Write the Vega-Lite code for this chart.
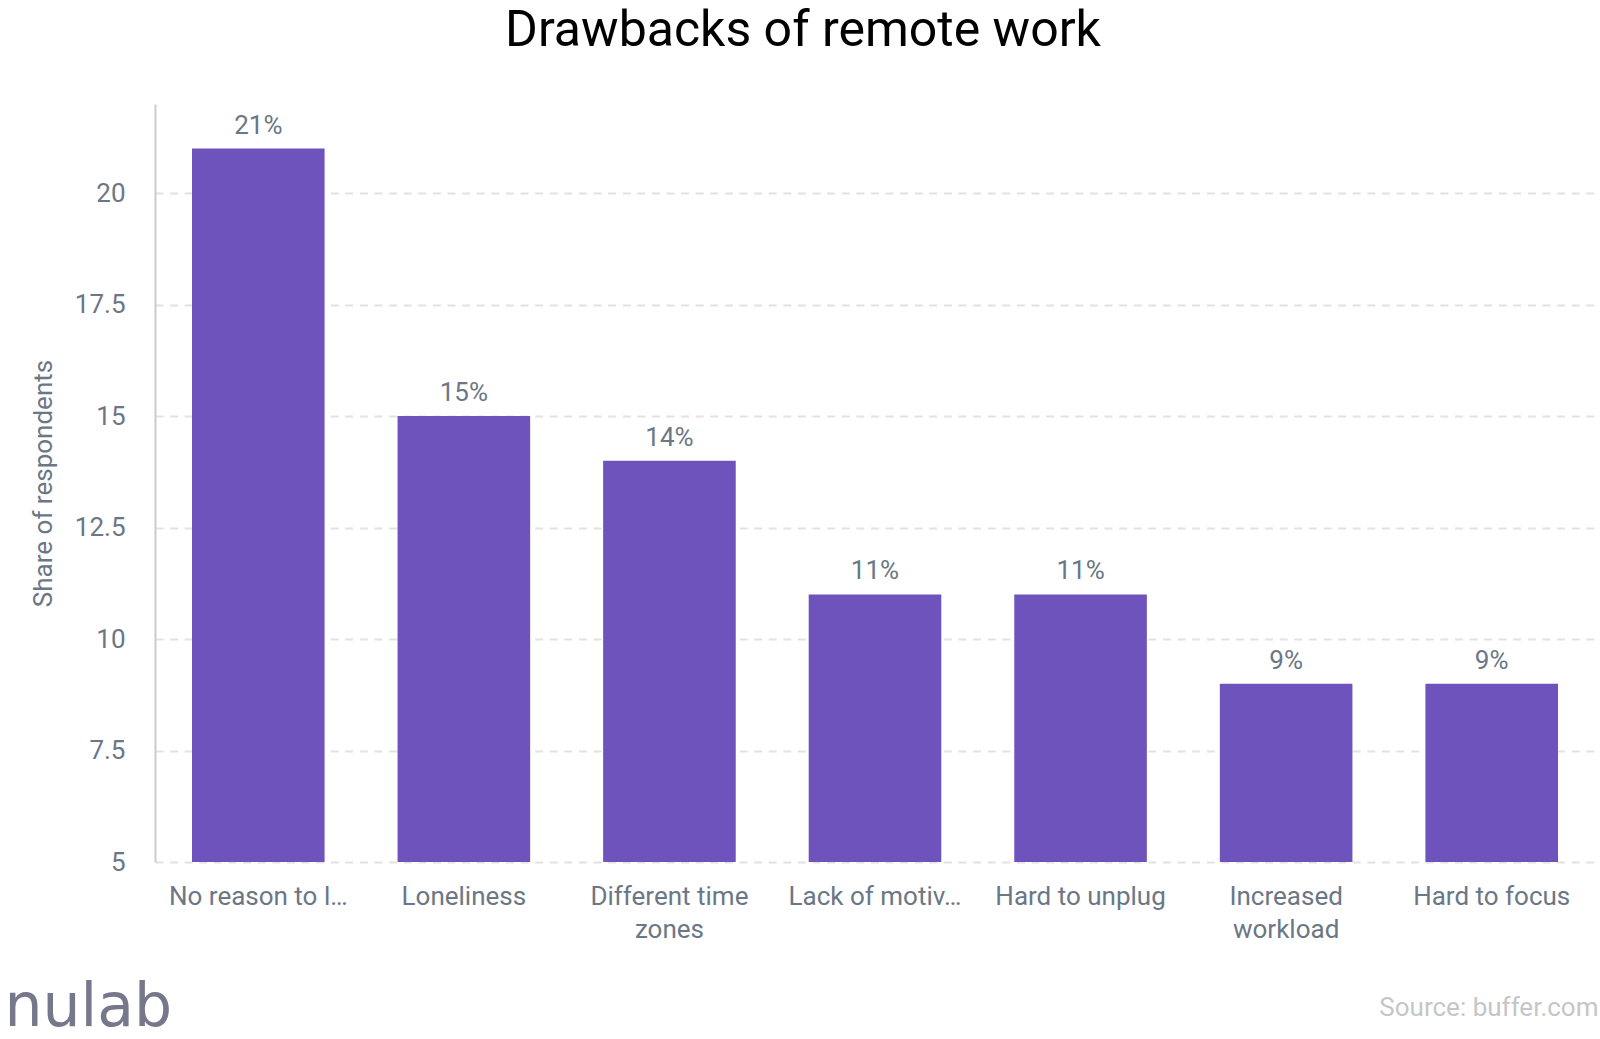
{
  "$schema": "https://vega.github.io/schema/vega-lite/v6.json",
  "autosize": {"type": "none"},
  "padding": {"left": 155, "top": 104, "right": 5, "bottom": 177},
  "width": 1440,
  "height": 758,
  "background": "#ffffff",
  "title": {
    "text": "Drawbacks of remote work",
    "font": "Roboto",
    "fontSize": 50,
    "fontWeight": "normal",
    "color": "#000000",
    "anchor": "middle",
    "frame": "group",
    "baseline": "alphabetic",
    "dx": -72,
    "offset": 8
  },
  "data": {
    "values": [
      {"reason": "No reason to l…", "value": 21, "label": "21%"},
      {"reason": "Loneliness", "value": 15, "label": "15%"},
      {"reason": "Different time zones", "value": 14, "label": "14%"},
      {"reason": "Lack of motiv…", "value": 11, "label": "11%"},
      {"reason": "Hard to unplug", "value": 11, "label": "11%"},
      {"reason": "Increased workload", "value": 9, "label": "9%"},
      {"reason": "Hard to focus", "value": 9, "label": "9%"}
    ]
  },
  "encoding": {
    "x": {
      "field": "reason",
      "type": "nominal",
      "sort": null,
      "scale": {"paddingInner": 0.355, "paddingOuter": 0.18},
      "axis": {
        "title": "Source: buffer.com",
        "titleFont": "Roboto",
        "titleFontSize": 26,
        "titleFontWeight": "normal",
        "titleColor": "#c6c6c6",
        "titleAlign": "right",
        "titleAnchor": "end",
        "titleBaseline": "alphabetic",
        "titleX": 1443,
        "titleY": 153,
        "domain": false,
        "ticks": false,
        "grid": false,
        "labelAngle": 0,
        "labelFont": "Roboto",
        "labelFontSize": 26,
        "labelColor": "#6b7785",
        "labelPadding": 21,
        "labelLineHeight": 33,
        "labelBaseline": "top",
        "labelLimit": 300,
        "labelExpr": "datum.label == 'Different time zones' ? ['Different time', 'zones'] : datum.label == 'Increased workload' ? ['Increased', 'workload'] : datum.label"
      }
    }
  },
  "layer": [
    {
      "mark": {"type": "bar", "color": "#6e53bd"},
      "encoding": {
        "y": {
          "field": "value",
          "type": "quantitative",
          "scale": {"domain": [5, 22], "nice": false, "zero": false},
          "axis": {
            "title": "Share of respondents",
            "titleFont": "Roboto",
            "titleFontSize": 26,
            "titleFontWeight": "normal",
            "titleColor": "#6b7785",
            "titlePadding": 18,
            "values": [5, 7.5, 10, 12.5, 15, 17.5, 20],
            "format": ".3~g",
            "labelFont": "Roboto",
            "labelFontSize": 26,
            "labelColor": "#6b7785",
            "labelPadding": 30,
            "ticks": false,
            "domain": true,
            "domainColor": "#cccccc",
            "domainWidth": 2,
            "grid": true,
            "gridColor": "#e2e2e2",
            "gridWidth": 2,
            "gridDash": [8, 6.6]
          }
        },
        "y2": {"datum": 5}
      }
    },
    {
      "mark": {"type": "text", "font": "Roboto", "fontSize": 26, "color": "#6b7785", "baseline": "alphabetic", "dy": -15},
      "encoding": {
        "y": {
          "field": "value",
          "type": "quantitative",
          "scale": {"domain": [5, 22], "nice": false, "zero": false},
          "axis": {
            "orient": "right",
            "title": "nulab",
            "titleFont": "DejaVu Sans",
            "titleFontSize": 60,
            "titleFontWeight": "normal",
            "titleColor": "#77778b",
            "titleAngle": 0,
            "titleAlign": "left",
            "titleBaseline": "alphabetic",
            "titleX": -1591,
            "titleY": 921,
            "labels": false,
            "ticks": false,
            "domain": false,
            "grid": false
          }
        },
        "text": {"field": "label"}
      }
    }
  ],
  "resolve": {"scale": {"y": "independent"}},
  "config": {"view": {"stroke": null}, "font": "Roboto"}
}
